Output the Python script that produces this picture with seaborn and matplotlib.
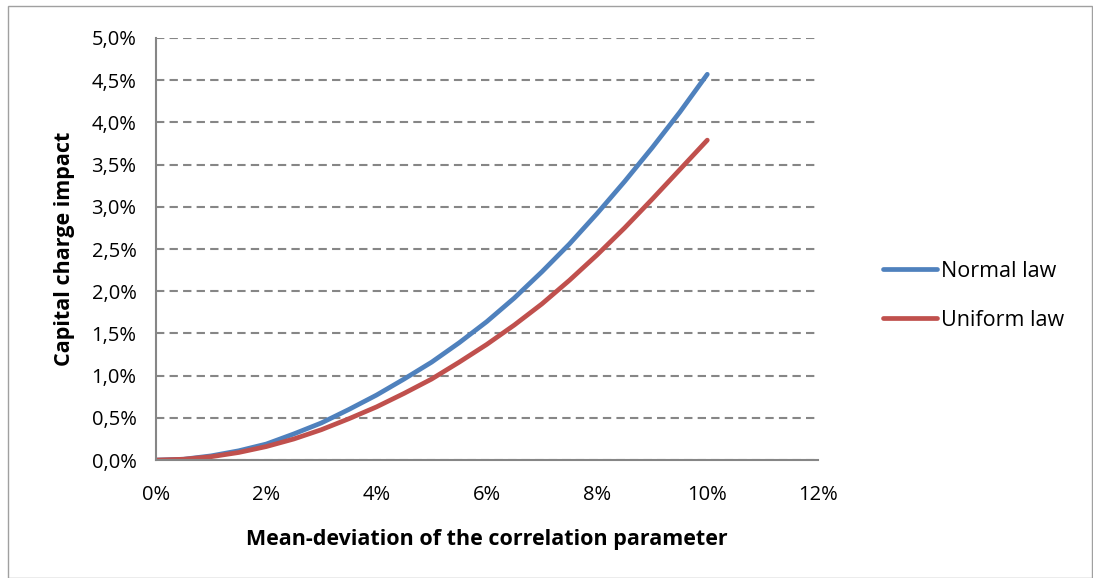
import numpy as np
import pandas as pd
import seaborn as sns
import matplotlib.pyplot as plt
from matplotlib.patches import Rectangle
from matplotlib.ticker import FuncFormatter

# mean-deviation of the correlation parameter (fraction)
deviation = [0.0, 0.005, 0.01, 0.015, 0.02, 0.025, 0.03, 0.035, 0.04, 0.045, 0.05,
             0.055, 0.06, 0.065, 0.07, 0.075, 0.08, 0.085, 0.09, 0.095, 0.10]
# capital charge impact (in %)
normal_law = [0.0, 0.01, 0.05, 0.11, 0.19, 0.31, 0.44, 0.60, 0.77, 0.96, 1.16,
              1.39, 1.64, 1.92, 2.23, 2.56, 2.92, 3.30, 3.70, 4.12, 4.57]
uniform_law = [0.0, 0.01, 0.04, 0.09, 0.16, 0.25, 0.36, 0.49, 0.63, 0.79, 0.96,
               1.16, 1.37, 1.60, 1.85, 2.13, 2.43, 2.75, 3.09, 3.44, 3.79]
series_names = ["Normal law", "Uniform law"]
colors = ["#4F81BD", "#C0504D"]

df = pd.DataFrame({
    "dev": deviation * 2,
    "impact": [v / 100 for v in normal_law + uniform_law],
    "law": [series_names[0]] * len(deviation) + [series_names[1]] * len(deviation),
})

sns.set_style("white")
plt.rcParams["font.family"] = ["Open Sans", "DejaVu Sans"]
plt.rcParams["text.color"] = "black"
plt.rcParams["axes.labelcolor"] = "black"

fig = plt.figure(figsize=(10.93, 5.78), dpi=100)
ax = fig.add_axes([0.1427, 0.204, 0.6053, 0.7303])

sns.lineplot(data=df, x="dev", y="impact", hue="law", palette=colors,
             linewidth=3.4, ax=ax, legend=False)

grey = "#868686"
ax.set_xlim(0, 0.12)
ax.set_ylim(0, 0.05)
ax.set_xticks(np.arange(0, 0.1201, 0.02))
ax.set_yticks(np.arange(0, 0.0501, 0.005))
ax.xaxis.set_major_formatter(FuncFormatter(lambda v, p: f"{v * 100:.0f}%"))
ax.yaxis.set_major_formatter(FuncFormatter(lambda v, p: f"{v * 100:.1f}%".replace(".", ",")))
ax.yaxis.grid(True, linestyle=(0, (4, 2.5)), color=grey, linewidth=1.5)
ax.xaxis.grid(False)
for side in ["top", "right"]:
    ax.spines[side].set_visible(False)
for side in ["left", "bottom"]:
    ax.spines[side].set_color(grey)
    ax.spines[side].set_linewidth(1.5)
ax.tick_params(axis="both", labelsize=14.5, colors="black", length=0)
ax.tick_params(axis="y", pad=14)
ax.tick_params(axis="x", pad=18)

ax.set_xlabel("Mean-deviation of the correlation parameter", fontsize=15.5,
              fontweight="bold", labelpad=17)
ax.set_ylabel("Capital charge impact", fontsize=15.5, fontweight="bold", labelpad=12)

handles = [plt.Line2D([], [], color=c, linewidth=3.4) for c in colors]
fig.legend(handles, series_names, loc="center left", bbox_to_anchor=(0.790, 0.488),
           frameon=False, fontsize=15.5, handlelength=2.5, handletextpad=0.2,
           labelspacing=1.3)

fig.patches.append(Rectangle((0.007, 0.0), 0.992, 0.99, transform=fig.transFigure,
                             fill=False, edgecolor="#A0A0A0", linewidth=1.0))

fig.savefig("out.png", dpi=100)
